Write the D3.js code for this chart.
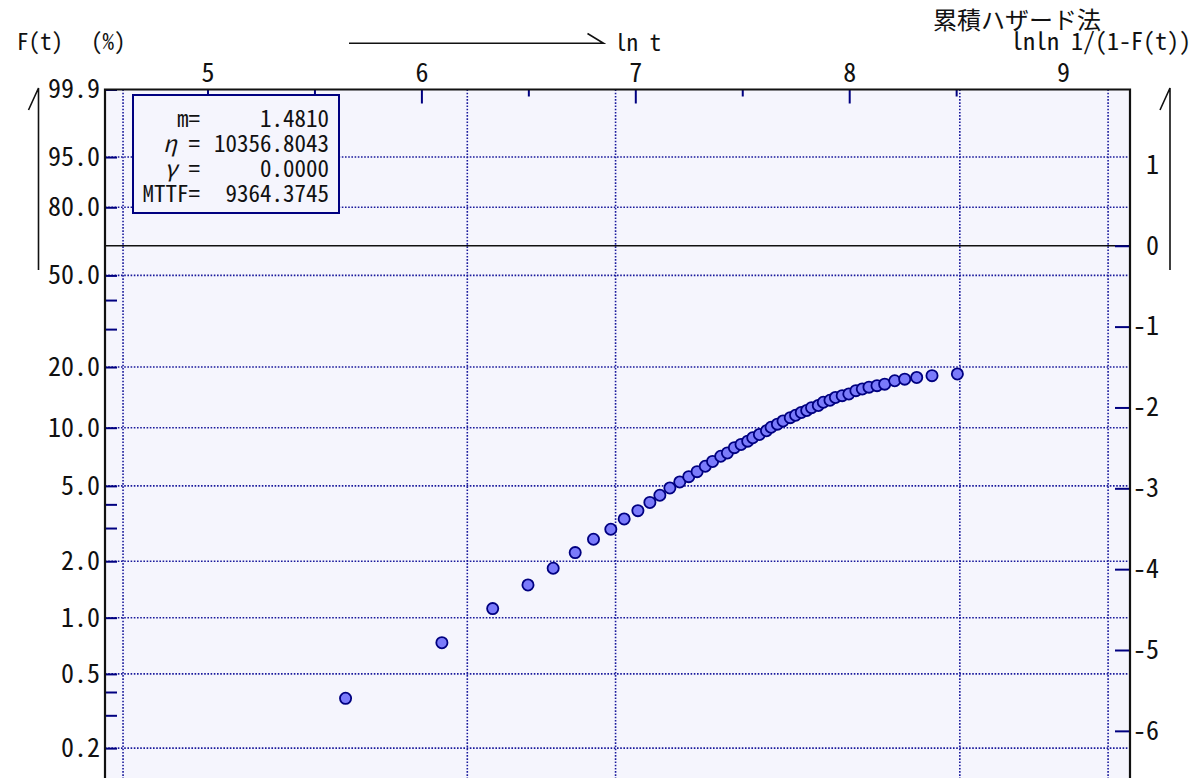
<!DOCTYPE html>
<html>
<head>
<meta charset="utf-8">
<script src="https://cdn.jsdelivr.net/npm/d3@7"></script>
<style>
  body { margin: 0; background: #ffffff; }
  text { font-family: "Noto Sans Mono CJK JP", "Noto Sans CJK JP", monospace; fill: #111; }
</style>
</head>
<body>
<svg id="chart" width="1195" height="778"></svg>
<script>
// Failure times (hours) and cumulative failure probability F(t) in percent (cumulative hazard method)
const tHours = [283, 444, 563, 664, 747, 828, 902, 978, 1041, 1110,
  1174, 1230, 1289, 1350, 1408, 1464, 1521, 1574, 1635, 1687,
  1743, 1798, 1855, 1899, 1959, 2025, 2069, 2131, 2188, 2263,
  2320, 2383, 2444, 2500, 2580, 2641, 2725, 2795, 2885, 2976,
  3076, 3169, 3270, 3395, 3519, 3688, 3864, 4087, 4390, 4943];
const fPercent = [0.370, 0.735, 1.118, 1.495, 1.835, 2.222, 2.616, 2.956, 3.350, 3.706,
  4.094, 4.466, 4.877, 5.242, 5.590, 5.935, 6.332, 6.706, 7.135, 7.420,
  7.903, 8.209, 8.535, 8.885, 9.237, 9.648, 10.053, 10.423, 10.821, 11.246,
  11.564, 11.947, 12.226, 12.629, 12.952, 13.439, 13.752, 14.200, 14.495, 14.780,
  15.345, 15.644, 15.967, 16.240, 16.518, 17.162, 17.474, 17.810, 18.172, 18.519];

// Axis ticks
const fTickValues = [99.9, 95, 80, 50, 20, 10, 5, 2, 1, 0.5, 0.2];
const fMinorValues = [40, 30, 4, 3, 0.4, 0.3];
const fGridValues = [95, 80, 50, 20, 10, 5, 2, 1, 0.5, 0.2];
const lnTickValues = [5, 6, 7, 8, 9];
const lnMinorValues = [5.5, 6.5, 7.5, 8.5];
const tGridValues = [100, 500, 1000, 5000, 10000];
const lnlnTickValues = [1, 0, -1, -2, -3, -4, -5, -6];

// Estimated Weibull parameters
const statLabels = ["m=", "η =", "γ =", "MTTF="];
const statValues = ["1.4810", "10356.8043", "0.0000", "9364.3745"];

const lnln = f => Math.log(-Math.log(1 - f / 100));

const svg = d3.select("#chart");
const NAVY = "#000080";

const x = d3.scaleLinear().domain([5, 9]).range([207.5, 207.5 + 4 * 213.9]);
const yTopVal = lnln(99.9);
const yBotVal = -6.75;
const y = d3.scaleLinear().domain([yTopVal, yBotVal])
  .range([89.5, 89.5 + (yTopVal - yBotVal) * 80.85]);

const L = 105, R = 1130, T = y(yTopVal), B = y(yBotVal);

svg.append("defs").append("clipPath").attr("id", "plotClip")
  .append("rect").attr("x", L).attr("y", T).attr("width", R - L).attr("height", B - T);

// plot background
svg.append("rect").attr("x", L).attr("y", T).attr("width", R - L).attr("height", B - T)
  .attr("fill", "#f5f5fd");

const plot = svg.append("g").attr("clip-path", "url(#plotClip)");

// dotted grid
plot.selectAll("line.hgrid").data(fGridValues).join("line").attr("class", "hgrid")
  .attr("x1", L).attr("x2", R)
  .attr("y1", d => y(lnln(d))).attr("y2", d => y(lnln(d)))
  .attr("stroke", "#1a1a9c").attr("stroke-width", 1.6).attr("stroke-dasharray", "1.6,1.6");
plot.selectAll("line.vgrid").data(tGridValues).join("line").attr("class", "vgrid")
  .attr("y1", T).attr("y2", B)
  .attr("x1", d => x(Math.log(d))).attr("x2", d => x(Math.log(d)))
  .attr("stroke", "#1a1a9c").attr("stroke-width", 1.6).attr("stroke-dasharray", "1.6,1.6");

// lnln = 0 reference line
plot.append("line").attr("x1", L).attr("x2", R).attr("y1", y(0)).attr("y2", y(0))
  .attr("stroke", "#111").attr("stroke-width", 1.6);

// data points
const pts = tHours.map((t, i) => ({ t, f: fPercent[i] }));
plot.selectAll("circle.pt").data(pts).join("circle").attr("class", "pt")
  .attr("cx", d => x(Math.log(d.t))).attr("cy", d => y(lnln(d.f)))
  .attr("r", 5.6).attr("fill", "#7b7bfb").attr("stroke", NAVY).attr("stroke-width", 1.8);

// left F(t) axis
const fmt = d3.format(".1f");
const leftAxis = svg.append("g").attr("transform", `translate(${L},0)`)
  .call(d3.axisLeft(y).tickValues(fTickValues.map(lnln)).tickSize(-12).tickSizeOuter(0)
    .tickPadding(5).tickFormat((d, i) => fmt(fTickValues[i])));
svg.append("g").attr("transform", `translate(${L},0)`)
  .call(d3.axisLeft(y).tickValues(fMinorValues.map(lnln)).tickSize(-12).tickSizeOuter(0).tickFormat(""));

// right lnln axis
svg.append("g").attr("class", "raxis").attr("transform", `translate(${R},0)`)
  .call(d3.axisRight(y).tickValues(lnlnTickValues).tickSize(-15).tickSizeOuter(0)
    .tickFormat(d => d < 0 ? "-" + Math.abs(d) : String(d)));
svg.selectAll(".raxis .tick text").attr("x", 29).attr("text-anchor", "end");
svg.selectAll(".raxis .tick line").filter(d => d > 0).remove();

// top ln t axis
svg.append("g").attr("class", "taxis").attr("transform", `translate(0,${T})`)
  .call(d3.axisTop(x).tickValues(lnTickValues).tickSize(-14).tickSizeOuter(0).tickPadding(8)
    .tickFormat(d3.format("d")));
svg.selectAll(".taxis .tick line").filter(d => d >= 9).remove();
svg.append("g").attr("transform", `translate(0,${T})`)
  .call(d3.axisTop(x).tickValues(lnMinorValues).tickSize(-7).tickSizeOuter(0).tickFormat(""));

svg.selectAll(".domain").remove();
svg.selectAll(".tick line").attr("stroke", NAVY).attr("stroke-width", 2);
svg.selectAll(".tick text").attr("font-size", 26).attr("fill", "#111")
  .attr("font-family", "'Noto Sans Mono CJK JP','Noto Sans CJK JP',monospace");

// frame
svg.append("path")
  .attr("d", `M${L},${B}V${T}H${R}V${B}`)
  .attr("fill", "none").attr("stroke", "#111").attr("stroke-width", 2.2);

// parameter box
const box = svg.append("g");
box.append("rect").attr("x", 133).attr("y", 95).attr("width", 206).attr("height", 118)
  .attr("fill", "#f5f5fd").attr("stroke", NAVY).attr("stroke-width", 2);
statLabels.forEach((lab, i) => {
  const tx = box.append("text").attr("x", 200).attr("y", 127 + i * 25)
    .attr("text-anchor", "end").attr("font-size", 23);
  if (lab.startsWith("η") || lab.startsWith("γ")) {
    tx.append("tspan").attr("font-style", "italic").text(lab[0]);
    tx.append("tspan").text(lab.slice(1));
  } else {
    tx.text(lab);
  }
  box.append("text").attr("x", 329).attr("y", 127 + i * 25)
    .attr("text-anchor", "end").attr("font-size", 23).text(statValues[i]);
});

// titles
svg.append("text").attr("x", 17).attr("y", 50).attr("font-size", 23).text("F(t)");
svg.append("text").attr("x", 91).attr("y", 50).attr("font-size", 23).text("(%)");
svg.append("text").attr("x", 615).attr("y", 51).attr("font-size", 23).text("ln t");
svg.append("text").attr("x", 933).attr("y", 29).attr("font-size", 24)
  .attr("font-family", "'Noto Sans CJK JP',sans-serif").text("累積ハザード法");
svg.append("text").attr("x", 1191).attr("y", 50).attr("text-anchor", "end")
  .attr("font-size", 24).text("lnln 1/(1-F(t))");

// arrows
const arrows = svg.append("g").attr("stroke", "#111").attr("stroke-width", 1.6).attr("fill", "none");
arrows.append("path").attr("d", "M349,43.3H603.5L587.5,33.5");
arrows.append("path").attr("d", "M38.5,270V88L28.5,110");
arrows.append("path").attr("d", "M1170,270V88L1160,110");
</script>
</body>
</html>
